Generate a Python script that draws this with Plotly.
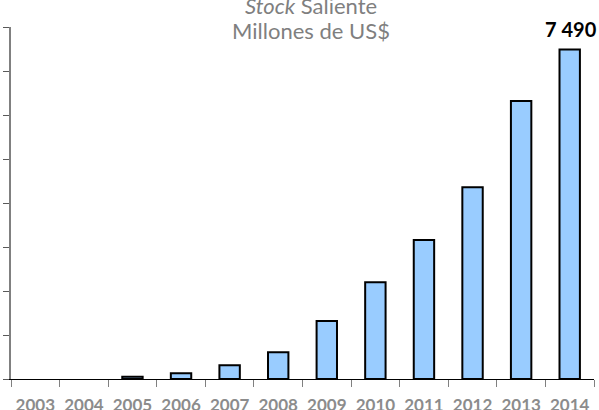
import plotly.graph_objects as go

years = ["2003", "2004", "2005", "2006", "2007", "2008", "2009", "2010", "2011", "2012", "2013", "2014"]
stock = [0, 0, 50, 130, 310, 610, 1320, 2200, 3160, 4360, 6320, 7490]
title_line1 = "<i>Stock</i> Saliente"
title_line2 = "Millones de US$"

last_label = f"{stock[-1]:,}".replace(",", " ")

fig = go.Figure()
fig.add_trace(go.Bar(
    x=years, y=stock, width=0.42,
    marker=dict(color="#99CCFF",
                line=dict(color="#000000", width=[2 if v > 0 else 0 for v in stock])),
    hoverinfo="skip",
))

fig.add_annotation(x=len(years) - 1, y=stock[-1], text=f"<b>{last_label}</b>", showarrow=False,
                   xanchor="center", yanchor="bottom", yshift=6, xshift=1,
                   font=dict(family="Lato", size=20, color="#000000"))
fig.add_annotation(x=0.515, y=(379 - 5) / 352, xref="paper", yref="paper", text=title_line1,
                   showarrow=False, xanchor="center", yanchor="middle",
                   font=dict(family="Lato", size=22, color="#7f7f7f"))
fig.add_annotation(x=0.515, y=(379 - 30) / 352, xref="paper", yref="paper", text=title_line2,
                   showarrow=False, xanchor="center", yanchor="middle",
                   font=dict(family="Lato", size=22, color="#7f7f7f"))

fig.update_layout(
    width=599, height=410,
    margin=dict(l=6, r=5, t=27, b=31),
    paper_bgcolor="white", plot_bgcolor="white",
    showlegend=False,
)
fig.update_xaxes(type="category", range=[-0.5, len(years) - 0.5], tickson="boundaries",
                 ticks="outside", ticklen=7,
                 tickcolor="#808080", showline=True, linecolor="#000000", linewidth=1,
                 showgrid=False, tickangle=0, automargin=False, ticklabelstandoff=11,
                 tickfont=dict(family="Lato", size=17, color="#8c8c8c", weight="bold"))
fig.update_yaxes(range=[0, 8000], dtick=1000, tick0=0, ticks="outside", ticklen=6,
                 tickcolor="#595959", showline=True, linecolor="#808080", linewidth=1.5,
                 showgrid=False, zeroline=False, showticklabels=False)

fig.write_html("out.html", config={"displayModeBar": False},
               post_script="document.body.style.margin='0px';document.body.style.overflow='hidden';")
